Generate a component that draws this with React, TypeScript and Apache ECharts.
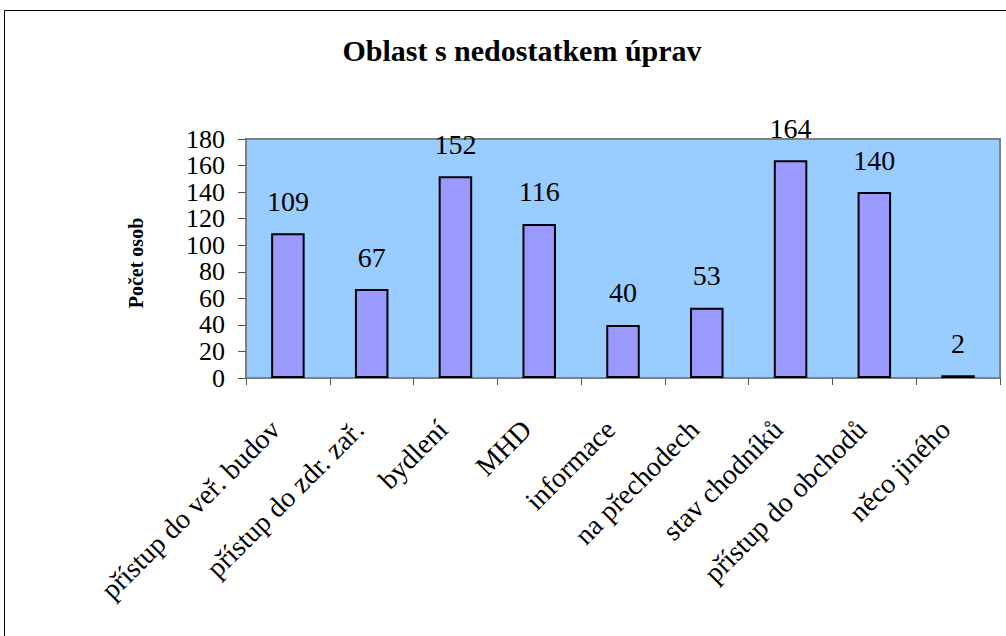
import React, { useEffect, useRef } from "react";
import * as echarts from "echarts";

const categories = [
  "přístup do veř. budov",
  "přístup do zdr. zař.",
  "bydlení",
  "MHD",
  "informace",
  "na přechodech",
  "stav chodníků",
  "přístup do obchodů",
  "něco jiného",
];
const values = [109, 67, 152, 116, 40, 53, 164, 140, 2];
const titleText = "Oblast s nedostatkem úprav";
const yAxisName = "Počet osob";

const FONT = "Liberation Serif, DejaVu Serif, serif";

export default function App() {
  const ref = useRef<HTMLDivElement>(null);
  useEffect(() => {
    if (!ref.current) return;
    const chart = echarts.init(ref.current, null, { renderer: "svg" });
    chart.setOption({
      animation: false,
      backgroundColor: "#ffffff",
      title: {
        text: titleText,
        left: 517,
        top: 30,
        textAlign: "center",
        textStyle: { fontFamily: FONT, fontWeight: "bold", fontSize: 30, color: "#000" },
      },
      graphic: [
        {
          type: "rect",
          shape: { x: 4.5, y: 10.5, width: 1010, height: 640 },
          style: { fill: "none", stroke: "#000", lineWidth: 1 },
          silent: true,
        },
        {
          type: "text",
          x: 136,
          y: 263,
          rotation: Math.PI / 2,
          silent: true,
          style: {
            text: yAxisName,
            fontFamily: FONT,
            fontWeight: "bold",
            fontSize: 20,
            fill: "#000",
            align: "center",
            verticalAlign: "middle",
          },
        },
      ],
      grid: {
        left: 246,
        right: 6,
        top: 139,
        bottom: 258,
        show: true,
        backgroundColor: "#99CCFF",
        borderColor: "#808080",
        borderWidth: 2,
        containLabel: false,
      },
      xAxis: {
        type: "category",
        data: categories,
        axisLine: { show: true, lineStyle: { color: "#808080", width: 2 } },
        axisTick: { show: true, alignWithLabel: false, length: 7, lineStyle: { color: "#555", width: 1 } },
        axisLabel: {
          interval: 0,
          rotate: 45,
          margin: 34,
          padding: [0, 18, 0, 0],
          fontFamily: FONT,
          fontSize: 28,
          color: "#000",
        },
      },
      yAxis: {
        type: "value",
        min: 0,
        max: 180,
        interval: 20,
        splitLine: { show: false },
        axisLine: { show: true, lineStyle: { color: "#808080", width: 2 } },
        axisTick: { show: true, length: 8, lineStyle: { color: "#555", width: 1 } },
        axisLabel: {
          fontFamily: FONT,
          fontSize: 26,
          lineHeight: 24,
          color: "#000",
          margin: 21,
          showMinLabel: true,
          showMaxLabel: true,
          hideOverlap: false,
        },
      },
      series: [
        {
          type: "bar",
          data: values,
          barWidth: "40%",
          itemStyle: { color: "#9999FF", borderColor: "#000", borderWidth: 2 },
          label: {
            show: true,
            position: "top",
            distance: 18,
            fontFamily: FONT,
            fontSize: 28,
            color: "#000",
          },
        },
      ],
    });
    return () => chart.dispose();
  }, []);
  return (
    <div
      ref={ref}
      style={{ position: "fixed", left: 0, top: 0, width: 1006, height: 636 }}
    />
  );
}
